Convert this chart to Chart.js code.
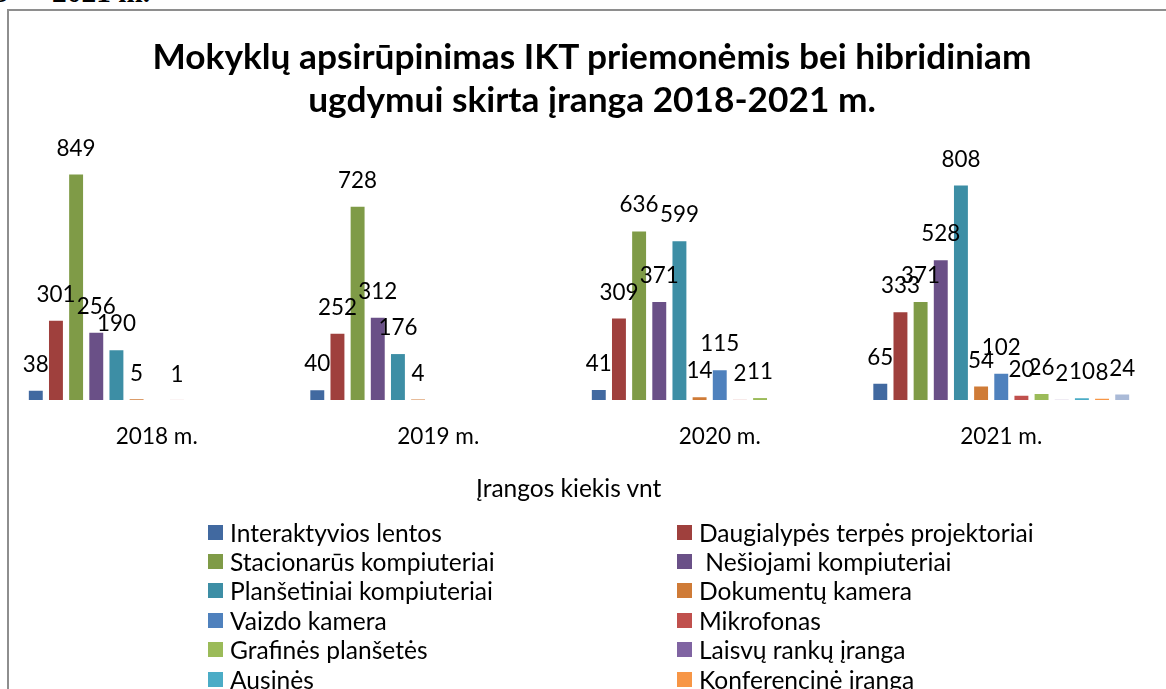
<!DOCTYPE html>
<html>
<head>
<meta charset="utf-8">
<script src="https://cdn.jsdelivr.net/npm/chart.js@4.4.0/dist/chart.umd.min.js"></script>
<style>
  html, body { margin:0; padding:0; background:#fff; width:1166px; height:689px; overflow:hidden; position:relative; }
  #cut { position:absolute; right:1016px; white-space:pre; font-family:"Liberation Serif","Times New Roman",serif; font-weight:bold; color:#000; }
  #frame { position:absolute; left:7px; top:9px; width:1220px; height:760px; border:2px solid #8e8e8e; box-sizing:border-box; }
  #chart { position:absolute; left:0; top:0; }
  #title { position:absolute; left:0; width:1184px; text-align:center; font-weight:bold; color:#000; white-space:nowrap; }
  #axisTitle { position:absolute; white-space:nowrap; color:#000; }
  #legend { position:absolute; left:0; top:0; }
  .lg { position:absolute; display:flex; align-items:center; white-space:pre; color:#000; }
  .lg .sw { width:15px; height:15px; flex:0 0 15px; }
</style>
</head>
<body>
<div id="cut">2018 –   2021 m.</div>
<div id="frame"></div>
<canvas id="chart" width="1166" height="689"></canvas>
<div id="title"></div>
<div id="axisTitle"></div>
<div id="legend"></div>
<script>
// ---- data ----
const chartTitleLines = ['Mokyklų apsirūpinimas IKT priemonėmis bei hibridiniam', 'ugdymui skirta įranga 2018-2021 m.'];
const axisTitle = 'Įrangos kiekis vnt';
const categories = ['2018 m.', '2019 m.', '2020 m.', '2021 m.'];
const seriesNames = [
  'Interaktyvios lentos',
  'Daugialypės terpės projektoriai',
  'Stacionarūs kompiuteriai',
  ' Nešiojami kompiuteriai',
  'Planšetiniai kompiuteriai',
  'Dokumentų kamera',
  'Vaizdo kamera',
  'Mikrofonas',
  'Grafinės planšetės',
  'Laisvų rankų įranga',
  'Ausinės',
  'Konferencinė įranga',
  'Kita įranga'
];
const interaktyviosLentos = [38, 40, 41, 65];
const projektoriai        = [301, 252, 309, 333];
const stacionarus         = [849, 728, 636, 371];
const nesiojami           = [256, 312, 371, 528];
const plansetiniai        = [190, 176, 599, 808];
const dokumentuKamera     = [5, 4, 14, 54];
const vaizdoKamera        = [null, null, 115, 102];
const mikrofonas          = [1, null, 2, 20];
const grafines            = [null, null, 11, 26];
const laisvuRanku         = [null, null, null, 2];
const ausines             = [null, null, null, 10];
const konferencine        = [null, null, null, 8];
const kita                = [null, null, null, 24];
const seriesValues = [interaktyviosLentos, projektoriai, stacionarus, nesiojami, plansetiniai,
  dokumentuKamera, vaizdoKamera, mikrofonas, grafines, laisvuRanku, ausines, konferencine, kita];
const seriesColors = ['#4169A0', '#9F403D', '#7F9B47', '#6A5087', '#3D8EA5', '#CF7B37',
  '#4F81BD', '#C0504D', '#9BBB59', '#8064A2', '#4BACC6', '#F79646', '#AABAD7'];

// ---- fonts ----
const FAM = 'Lato, "Open Sans", sans-serif';
const mctx = document.createElement('canvas').getContext('2d');
function fitSize(text, weight, family, target) {
  mctx.font = weight + ' 100px ' + family;
  return 100 * target / mctx.measureText(text).width;
}
const titleSize = fitSize(chartTitleLines[0], 'bold', FAM, 880);
const labelSize = fitSize('849', 'normal', FAM, 39);
const tickSize  = fitSize('2018 m.', 'normal', FAM, 82);
const axisSize  = fitSize(axisTitle, 'normal', FAM, 186);
const legSize   = fitSize('Interaktyvios lentos', 'normal', FAM, 212);
const cutSize   = fitSize('2021 m.', 'bold', '"Liberation Serif"', 98);

// top cut-off caption
const cut = document.getElementById('cut');
cut.style.fontSize = cutSize + 'px';
cut.style.lineHeight = cutSize + 'px';
cut.style.top = (3 - 0.84 * cutSize) + 'px';

// title
const t = document.getElementById('title');
t.style.fontFamily = FAM;
t.style.fontSize = titleSize + 'px';
t.style.lineHeight = '43px';
t.style.top = (55 - 21.5) + 'px';
t.innerHTML = chartTitleLines.map(s => '<div>' + s + '</div>').join('');

// axis title
const at = document.getElementById('axisTitle');
at.textContent = axisTitle;
at.style.fontFamily = FAM;
at.style.fontSize = axisSize + 'px';
at.style.lineHeight = '30px';
at.style.left = '476px';
at.style.top = (488 - 15) + 'px';

// legend
const lg = document.getElementById('legend');
seriesNames.forEach((name, i) => {
  const row = Math.floor(i / 2), col = i % 2;
  const el = document.createElement('div');
  el.className = 'lg';
  el.style.left = (col ? 677 : 208) + 'px';
  el.style.top = (532 + row * 29.4 - 15) + 'px';
  el.style.height = '30px';
  el.style.fontFamily = FAM;
  el.style.fontSize = legSize + 'px';
  const sw = document.createElement('span');
  sw.className = 'sw';
  sw.style.background = seriesColors[i];
  const tx = document.createElement('span');
  tx.textContent = name;
  tx.style.marginLeft = '7px';
  el.appendChild(sw); el.appendChild(tx);
  lg.appendChild(el);
});

// value labels plugin
const valueLabels = {
  id: 'valueLabels',
  afterDatasetsDraw(chart, args, opts) {
    const ctx = chart.ctx;
    ctx.save();
    ctx.font = opts.size + 'px ' + opts.family;
    ctx.fillStyle = '#000';
    ctx.textAlign = 'center';
    ctx.textBaseline = 'alphabetic';
    chart.data.datasets.forEach((ds, i) => {
      const meta = chart.getDatasetMeta(i);
      meta.data.forEach((bar, j) => {
        const v = ds.data[j];
        if (v === null || v === undefined) return;
        ctx.fillText(String(v), bar.x, bar.y - opts.offset);
      });
    });
    ctx.restore();
  }
};

new Chart(document.getElementById('chart'), {
  type: 'bar',
  data: {
    labels: categories,
    datasets: seriesValues.map((vals, i) => ({
      label: seriesNames[i],
      data: vals,
      backgroundColor: seriesColors[i],
      borderColor: 'rgba(255,255,255,0.45)',
      borderWidth: 1,
      barPercentage: 0.79,
      categoryPercentage: 0.931
    }))
  },
  options: {
    responsive: false,
    animation: false,
    layout: { padding: { left: 16, right: 24, top: 160, bottom: 689 - 460 } },
    plugins: {
      legend: { display: false },
      title: { display: false },
      tooltip: { enabled: false },
      valueLabels: { size: labelSize, family: FAM, offset: 18 }
    },
    scales: {
      x: {
        grid: { display: false, drawTicks: false },
        border: { display: false },
        ticks: { color: '#000', font: { family: FAM, size: tickSize }, padding: 437 - 400 - 0.6 * tickSize },
        afterFit(s) { s.height = 60; }
      },
      y: { display: false, min: 0, max: 900 }
    }
  },
  plugins: [valueLabels]
});
</script>
</body>
</html>
